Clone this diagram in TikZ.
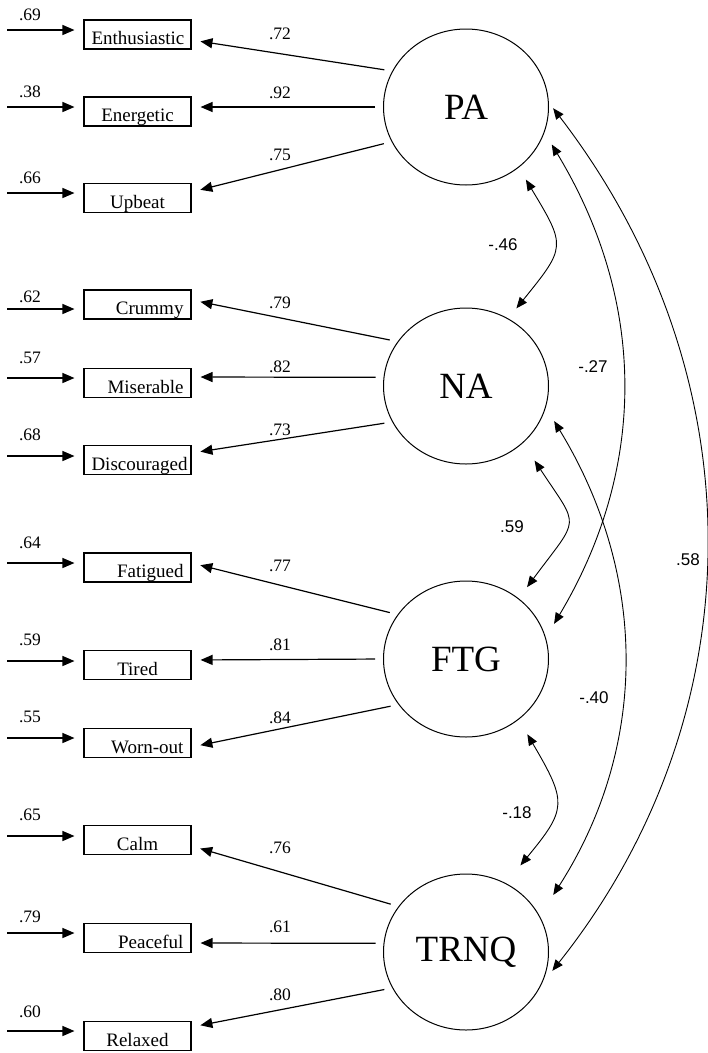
\documentclass[tikz,border=0pt]{standalone}
\usepackage{fontspec}
\setmainfont{Liberation Serif}
\newfontfamily\corrfont{Liberation Sans}
\usetikzlibrary{shapes.geometric}
\usetikzlibrary{arrows.meta}

\begin{document}
\begin{tikzpicture}[x=1pt, y=-1pt,
    ind/.style={draw, line width=1.1pt, minimum width=107pt, minimum height=29pt,
      inner xsep=7.5pt, inner ysep=3pt, text width=92pt, align=center,
      text height=20pt, text depth=0pt, font=\fontsize{19}{21}\selectfont},
    lat/.style={ellipse, draw, line width=1pt, minimum width=165pt, minimum height=156pt,
      inner sep=0pt, font=\fontsize{37}{40}\selectfont},
    err/.style={line width=1.3pt, -{Triangle[length=12pt,width=10pt]}, shorten >=9pt},
    load/.style={line width=1.2pt, -{Triangle[length=12pt,width=10pt]}, shorten <=8pt, shorten >=9pt},
    cov/.style={line width=0.9pt, {Triangle[length=11pt,width=9pt]}-{Triangle[length=11pt,width=9pt]}},
    num/.style={font=\fontsize{17.5}{19}\selectfont, inner sep=0pt},
    cnum/.style={font=\corrfont\fontsize{17}{19}\selectfont, inner sep=0pt}]
  \useasboundingbox (0,0) rectangle (708,1053);

  \node[lat] (PA) at (466,107) {PA};
  \node[lat] (NA) at (466,386) {NA};
  \node[lat] (FTG) at (466,659) {FTG};
  \node[lat] (TRNQ) at (466,952) {TRNQ};

  \node[ind, align=right] (enth) at (137.5,34.5) {Enthusiastic};
  \node[ind] (ener) at (137.5,111.5) {Energetic};
  \node[ind] (upb) at (137.5,198) {Upbeat};
  \node[ind, align=right] (crum) at (137.5,304.5) {Crummy};
  \node[ind, align=right] (mis) at (137.5,383) {Miserable};
  \node[ind, align=right] (disc) at (137.5,460) {Discouraged};
  \node[ind, align=right] (fat) at (137.5,567.5) {Fatigued};
  \node[ind] (tir) at (137.5,665) {Tired};
  \node[ind, align=right] (worn) at (137.5,743) {Worn-out};
  \node[ind] (calm) at (137.5,840) {Calm};
  \node[ind, align=right] (peace) at (137.5,938) {Peaceful};
  \node[ind] (relax) at (137.5,1036) {Relaxed};

  % error terms
  \coordinate (u1) at (7,30);    \draw[err] (u1) -- (u1 -| enth.west);
  \coordinate (u2) at (7,107);   \draw[err] (u2) -- (u2 -| ener.west);
  \coordinate (u3) at (7,193);   \draw[err] (u3) -- (u3 -| upb.west);
  \coordinate (u4) at (7,309);   \draw[err] (u4) -- (u4 -| crum.west);
  \coordinate (u5) at (7,378);   \draw[err] (u5) -- (u5 -| mis.west);
  \coordinate (u6) at (7,456);   \draw[err] (u6) -- (u6 -| disc.west);
  \coordinate (u7) at (7,563);   \draw[err] (u7) -- (u7 -| fat.west);
  \coordinate (u8) at (7,661);   \draw[err] (u8) -- (u8 -| tir.west);
  \coordinate (u9) at (7,738);   \draw[err] (u9) -- (u9 -| worn.west);
  \coordinate (u10) at (7,836);  \draw[err] (u10) -- (u10 -| calm.west);
  \coordinate (u11) at (7,933);  \draw[err] (u11) -- (u11 -| peace.west);
  \coordinate (u12) at (7,1031); \draw[err] (u12) -- (u12 -| relax.west);

  \node[num] (r1) at (30,15) {.69};
  \node[num] (r2) at (30,92) {.38};
  \node[num] (r3) at (30,178) {.66};
  \node[num] (r4) at (30,297) {.62};
  \node[num] (r5) at (30,358) {.57};
  \node[num] (r6) at (30,435) {.68};
  \node[num] (r7) at (30,543) {.64};
  \node[num] (r8) at (30,640) {.59};
  \node[num] (r9) at (30,717) {.55};
  \node[num] (r10) at (30,815) {.65};
  \node[num] (r11) at (30,917) {.79};
  \node[num] (r12) at (30,1012) {.60};

  % loadings
  \draw[load] (PA.154) -- ([yshift=-5.5pt]enth.east);
  \draw[load] (PA.180) -- ([yshift=4.5pt]ener.east);
  \draw[load] (PA.205) -- ([yshift=6pt]upb.east);
  \draw[load] (NA.147) -- ([yshift=4.5pt]crum.east);
  \draw[load] (NA.174) -- ([yshift=6pt]mis.east);
  \draw[load] (NA.206) -- ([yshift=7pt]disc.east);
  \draw[load] (FTG.147) -- ([yshift=4.5pt]fat.east);
  \draw[load] (FTG.180) -- ([yshift=5pt]tir.east);
  \draw[load] (FTG.214) -- ([yshift=-4pt]worn.east);
  \draw[load] (TRNQ.146) -- ([yshift=-6pt]calm.east);
  \draw[load] (TRNQ.174) -- ([yshift=-5pt]peace.east);
  \draw[load] (TRNQ.206) -- ([yshift=9pt]relax.east);

  \node[num] (l1) at (280,34) {.72};
  \node[num] (l2) at (280,93) {.92};
  \node[num] (l3) at (280,155) {.75};
  \node[num] (l4) at (280,303) {.79};
  \node[num] (l5) at (280,367) {.82};
  \node[num] (l6) at (280,430) {.73};
  \node[num] (l7) at (280,566) {.77};
  \node[num] (l8) at (280,645) {.81};
  \node[num] (l9) at (280,718) {.84};
  \node[num] (l10) at (280,848) {.76};
  \node[num] (l11) at (280,927) {.61};
  \node[num] (l12) at (280,995) {.80};

  % correlations
  \draw[cov, shorten <=14pt, shorten >=13pt] (PA.-49) to[bend left=35, looseness=1.56] (NA.58);
  \draw[cov, shorten <=21pt, shorten >=14pt] (NA.-45) to[bend left=35, looseness=1.7] (FTG.49);
  \draw[cov, shorten <=17pt, shorten >=23pt] (FTG.-49) to[bend left=35, looseness=1.5] (TRNQ.60);
  \draw[cov, shorten <=14pt, shorten >=16pt] (PA.-18) to[bend left=31] (FTG.15);
  \draw[cov, shorten <=16pt, shorten >=25pt] (NA.-15) to[bend left=32] (TRNQ.26);
  \draw[cov, shorten <=7pt, shorten >=17pt] (PA.3) to[bend left=38] (TRNQ.-23);

  \node[cnum] (c1) at (503,245) {-.46};
  \node[cnum] (c2) at (512,527) {.59};
  \node[cnum] (c3) at (517,813) {-.18};
  \node[cnum] (c4) at (593,367) {-.27};
  \node[cnum] (c5) at (594,698) {-.40};
  \node[cnum] (c6) at (688,560) {.58};
\end{tikzpicture}
\end{document}
